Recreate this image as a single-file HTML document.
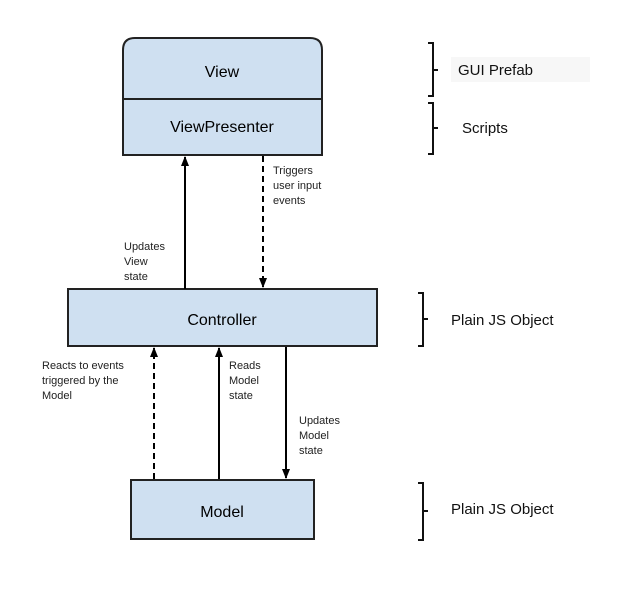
<!DOCTYPE html>
<html><head><style>
body{margin:0;background:#fff;}
svg text{font-family:"Liberation Sans",sans-serif;}
</style></head><body>
<svg width="628" height="584" viewBox="0 0 628 584" xmlns="http://www.w3.org/2000/svg">
<defs><marker id="a" markerWidth="10" markerHeight="10" refX="9" refY="5" orient="auto" markerUnits="userSpaceOnUse"><path d="M0,1 L10,5 L0,9 z" fill="#000"/></marker></defs>
<path d="M123,155 V50 Q123,38 135,38 H310 Q322,38 322,50 V155 Z" fill="#cfe0f1" stroke="#222" stroke-width="2"/>
<line x1="123" y1="99" x2="322" y2="99" stroke="#222" stroke-width="2"/>
<text x="222" y="77" font-size="16" text-anchor="middle">View</text>
<text x="222" y="132" font-size="16" text-anchor="middle">ViewPresenter</text>
<rect x="68" y="289" width="309" height="57" fill="#cfe0f1" stroke="#222" stroke-width="2"/>
<text x="222" y="325" font-size="16" text-anchor="middle">Controller</text>
<rect x="131" y="480" width="183" height="59" fill="#cfe0f1" stroke="#222" stroke-width="2"/>
<text x="222" y="517" font-size="16" text-anchor="middle">Model</text>
<line x1="185" y1="289" x2="185" y2="157" stroke="#000" stroke-width="2" marker-end="url(#a)"/>
<line x1="263" y1="156" x2="263" y2="287" stroke="#000" stroke-width="2" stroke-dasharray="6,4" marker-end="url(#a)"/>
<line x1="154" y1="479" x2="154" y2="348" stroke="#000" stroke-width="2" stroke-dasharray="6,4" marker-end="url(#a)"/>
<line x1="219" y1="479" x2="219" y2="348" stroke="#000" stroke-width="2" marker-end="url(#a)"/>
<line x1="286" y1="347" x2="286" y2="478" stroke="#000" stroke-width="2" marker-end="url(#a)"/>
<g font-size="11" fill="#222">
<text x="273" y="174">Triggers</text><text x="273" y="189">user input</text><text x="273" y="204">events</text>
<text x="124" y="250">Updates</text><text x="124" y="265">View</text><text x="124" y="280">state</text>
<text x="42" y="369">Reacts to events</text><text x="42" y="384">triggered by the</text><text x="42" y="399">Model</text>
<text x="229" y="369">Reads</text><text x="229" y="384">Model</text><text x="229" y="399">state</text>
<text x="299" y="424">Updates</text><text x="299" y="439">Model</text><text x="299" y="454">state</text>
</g>
<g fill="none" stroke="#111" stroke-width="2">
<path d="M428,43 H433 V96 H428 M433,70 H438"/>
<path d="M428,103 H433 V154 H428 M433,128 H438"/>
<path d="M418,293 H423 V346 H418 M423,319 H428"/>
<path d="M418,483 H423 V540 H418 M423,511 H428"/>
</g>
<rect x="451" y="57" width="139" height="25" fill="#f7f7f7"/>
<g font-size="15" fill="#111">
<text x="458" y="75">GUI Prefab</text>
<text x="462" y="133">Scripts</text>
<text x="451" y="325">Plain JS Object</text>
<text x="451" y="514">Plain JS Object</text>
</g>
</svg>
</body></html>
